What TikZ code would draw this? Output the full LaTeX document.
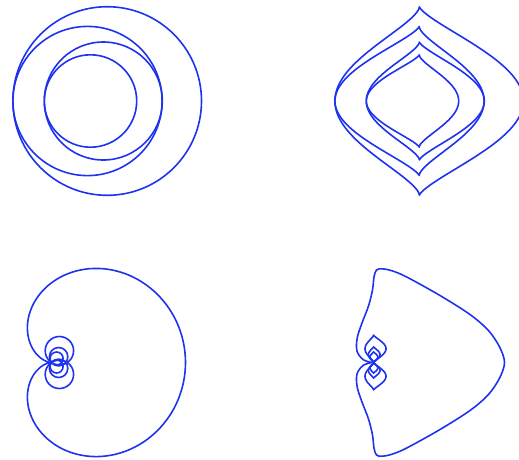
\documentclass[tikz,border=0pt]{standalone}
\usepackage{tikz}
\definecolor{curveblue}{RGB}{30,50,240}

\begin{document}
\begin{tikzpicture}[x=1pt, y=-1pt,
    curve/.style={draw=curveblue, line width=1.6pt, line join=round},
    declare function={
      onion(\ang,\cen,\rad,\pin,\ex)=\pin+(\cen-\pin+\rad*cos(\ang))*max(abs(cos(\ang)),0.0001)^\ex;
      bigr(\ang)=134*cos(\ang/2)^1.5;
    }]
  \useasboundingbox (0,0) rectangle (519,459);
  \clip (0,0) rectangle (519,459);

  % top left: four nested circles
  \foreach \cx/\r in {107.2/94.3, 87.5/74.6, 103.3/59, 90.5/46.2}
    \draw[curve] (\cx,101) circle[radius=\r pt];

  % top right: the same circles, pinched to cusps
  \foreach \cx/\r in {107.2/94.3, 87.5/74.6, 103.3/59, 90.5/46.2}
    \draw[curve] plot[domain=0:360, samples=200, smooth]
      ({onion(\x,\cx+322,\r,419.3,2)}, {101+\r*sin(\x)}) -- cycle;

  % bottom left: big loop and small circles through the junction
  \draw[curve] plot[domain=-179:179, samples=240, smooth]
    ({51.5+bigr(\x)*cos(\x)}, {362.5-bigr(\x)*sin(\x)}) -- cycle;
  \foreach \a/\b/\r in {7.9/11.8/14.2, 7.1/5.8/9.2, 5.1/4/6.5} {
    \draw[curve] (51.5+\a,362.5-\b) circle[radius=\r pt];
    \draw[curve] (51.5+\a,362.5+\b) circle[radius=\r pt];
  }

  % bottom right: big loop with flattened corners, small lenses
  \draw[curve] plot[smooth, tension=0.55] coordinates {
    (371.7,362.5) (363,359.5) (357,351) (357.2,338) (362,323) (368.5,306)
    (372.5,290) (374,277) (376.5,270) (382,268.8) (392,270.8) (406.7,277)
    (440,295.5) (470,314.5) (488,330) (498,344) (503,355) (504.5,362.5)
    (503,370) (498,381) (488,395) (470,410.5) (440,429.5) (406.7,448)
    (392,454.2) (382,456.2) (376.5,455) (374,448) (372.5,435) (368.5,419)
    (362,402) (357.2,387) (357,374) (363,365.5) (371.7,362.5)};
  \foreach \cx/\h/\rx in {375.5/13.75/10.5, 374.2/7.9/5.8, 373.9/5.4/3.9} {
    \draw[curve] plot[domain=0:360, samples=120, smooth]
      ({onion(\x,\cx,\rx,373.5,2)}, {362.5-\h+\h*sin(\x)}) -- cycle;
    \draw[curve] plot[domain=0:360, samples=120, smooth]
      ({onion(\x,\cx,\rx,373.5,2)}, {362.5+\h+\h*sin(\x)}) -- cycle;
  }
\end{tikzpicture}
\end{document}
